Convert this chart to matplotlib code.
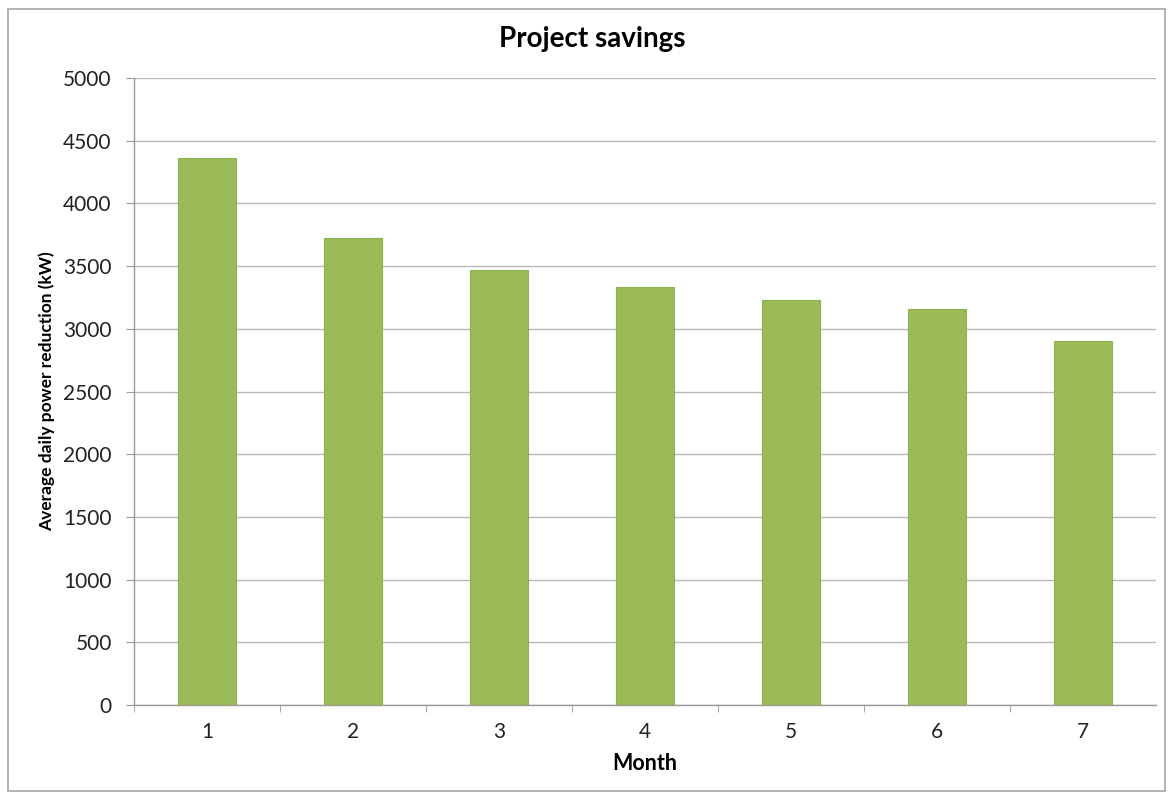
import matplotlib.pyplot as plt
from matplotlib.patches import Rectangle

months = [1, 2, 3, 4, 5, 6, 7]
savings_kw = [4360, 3725, 3470, 3330, 3230, 3155, 2900]
y_ticks = [0, 500, 1000, 1500, 2000, 2500, 3000, 3500, 4000, 4500, 5000]

plt.rcParams['font.family'] = ['Lato', 'DejaVu Sans']

W, H = 1175, 794
fig = plt.figure(figsize=(W / 100, H / 100), dpi=100)
fig.patch.set_facecolor('white')

# chart frame
fig.patches.append(Rectangle((8 / W, 1 - 791 / H), (1165 - 8) / W, (791 - 9) / H,
                             transform=fig.transFigure, fill=False,
                             edgecolor='#a6a6a6', linewidth=1.2))

left, right, top, bottom = 134, 1156, 78, 705
ax = fig.add_axes([left / W, 1 - bottom / H, (right - left) / W, (bottom - top) / H])

pos = [m - 1 for m in months]
ax.bar(pos, savings_kw, width=0.4, color='#9bbb59', edgecolor='#8fb050',
       linewidth=0.8, zorder=3)

ax.set_xlim(-0.5, len(months) - 0.5)
ax.set_ylim(0, 5000)
ax.set_yticks(y_ticks)
ax.set_yticklabels([str(v) for v in y_ticks], fontsize=15, color='#222222')
ax.set_xticks(pos)
ax.set_xticklabels([str(m) for m in months], fontsize=15, color='#222222')
ax.set_xticks([p + 0.5 for p in pos[:-1]] + [-0.5], minor=True)

ax.grid(axis='y', color='#b8b8b8', linewidth=1.0, zorder=0)
for side in ('top', 'right'):
    ax.spines[side].set_visible(False)
for side in ('left', 'bottom'):
    ax.spines[side].set_color('#9a9a9a')
    ax.spines[side].set_linewidth(1.0)

ax.tick_params(axis='y', length=6, color='#9a9a9a', pad=10)
ax.tick_params(axis='x', which='major', length=0, pad=12)
ax.tick_params(axis='x', which='minor', length=5, color='#9a9a9a')

ax.set_xlabel('Month', fontsize=15.5, fontweight='bold')
ax.xaxis.set_label_coords(0.5, -(753 - bottom) / (bottom - top))
ax.set_ylabel('Average daily power reduction (kW)', fontsize=12.5,
              fontweight='bold')
ax.yaxis.set_label_coords(-(left - 55) / (right - left), 0.5)
fig.text(592 / W, 1 - 39 / H, 'Project savings', ha='center', va='center',
         fontsize=20, fontweight='bold')

fig.savefig('out.png', dpi=100)
